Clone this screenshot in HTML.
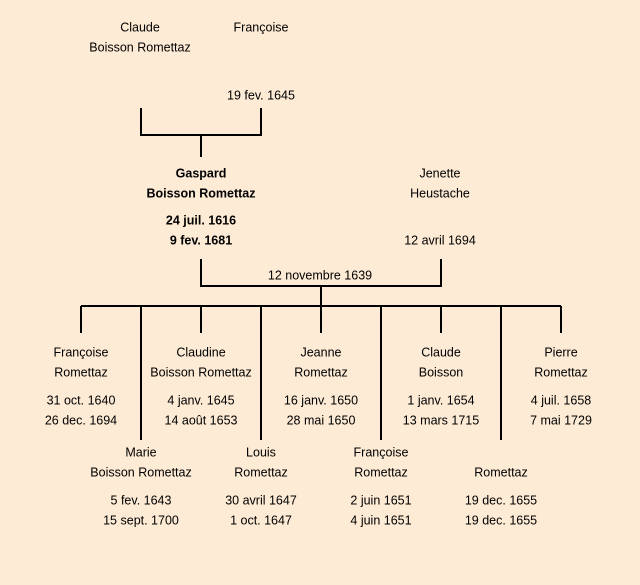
<!DOCTYPE html>
<html><head><meta charset="utf-8"><style>
html,body{margin:0;padding:0;background:#fdebd5;}
svg{display:block}
text{font-family:"Liberation Sans",sans-serif;font-size:12.5px;fill:#000;text-anchor:middle;dominant-baseline:middle}
.b{font-weight:bold}
</style></head><body>
<svg width="640" height="585" viewBox="0 0 640 585" xmlns="http://www.w3.org/2000/svg">
<rect width="640" height="585" fill="#fdebd5"/>
<g stroke="#000" stroke-width="2" fill="none">
<path d="M141 108V135H261V108M201 135V157"/>
<path d="M201 259V286H441V259M321 286V306"/>
<path d="M81 306H561"/>
<path d="M81 306V333M201 306V333M321 306V333M441 306V333M561 306V333"/>
<path d="M141 306V440M261 306V440M381 306V440M501 306V440"/>
</g>
<g transform="translate(0,1)">
<text x="140" y="27">Claude</text>
<text x="140" y="47">Boisson Romettaz</text>
<text x="261" y="27">Françoise</text>
<text x="261" y="95">19 fev. 1645</text>
<text class="b" x="201" y="173">Gaspard</text>
<text class="b" x="201" y="193">Boisson Romettaz</text>
<text class="b" x="201" y="220">24 juil. 1616</text>
<text class="b" x="201" y="240">9 fev. 1681</text>
<text x="440" y="173">Jenette</text>
<text x="440" y="193">Heustache</text>
<text x="440" y="240">12 avril 1694</text>
<text x="320" y="275">12 novembre 1639</text>

<text x="81" y="352">Françoise</text><text x="81" y="372">Romettaz</text>
<text x="81" y="400">31 oct. 1640</text><text x="81" y="420">26 dec. 1694</text>
<text x="201" y="352">Claudine</text><text x="201" y="372">Boisson Romettaz</text>
<text x="201" y="400">4 janv. 1645</text><text x="201" y="420">14 août 1653</text>
<text x="321" y="352">Jeanne</text><text x="321" y="372">Romettaz</text>
<text x="321" y="400">16 janv. 1650</text><text x="321" y="420">28 mai 1650</text>
<text x="441" y="352">Claude</text><text x="441" y="372">Boisson</text>
<text x="441" y="400">1 janv. 1654</text><text x="441" y="420">13 mars 1715</text>
<text x="561" y="352">Pierre</text><text x="561" y="372">Romettaz</text>
<text x="561" y="400">4 juil. 1658</text><text x="561" y="420">7 mai 1729</text>

<text x="141" y="452">Marie</text><text x="141" y="472">Boisson Romettaz</text>
<text x="141" y="500">5 fev. 1643</text><text x="141" y="520">15 sept. 1700</text>
<text x="261" y="452">Louis</text><text x="261" y="472">Romettaz</text>
<text x="261" y="500">30 avril 1647</text><text x="261" y="520">1 oct. 1647</text>
<text x="381" y="452">Françoise</text><text x="381" y="472">Romettaz</text>
<text x="381" y="500">2 juin 1651</text><text x="381" y="520">4 juin 1651</text>
<text x="501" y="472">Romettaz</text>
<text x="501" y="500">19 dec. 1655</text><text x="501" y="520">19 dec. 1655</text>
</g>
</svg>
</body></html>
